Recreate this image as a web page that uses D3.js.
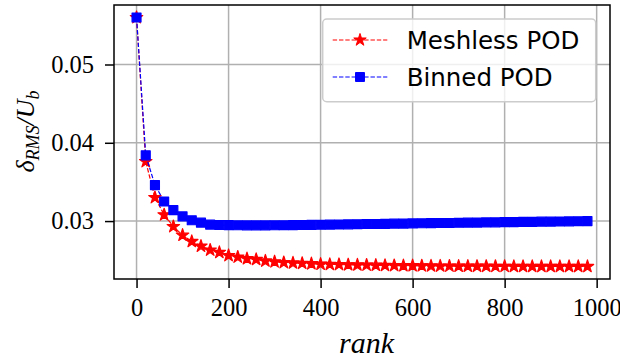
<!DOCTYPE html>
<html>
<head>
<meta charset="utf-8">
<script src="https://cdn.jsdelivr.net/npm/d3@7"></script>
<style>
body { margin: 0; background: #fff; }
.tick text { font-family: "Liberation Serif", serif; font-size: 24.5px; fill: #000; }
</style>
</head>
<body>
<svg id="chart" width="620" height="359"></svg>
<script>
var ranks = [0, 20, 40, 60, 80, 100, 120, 140, 160, 180,
    200, 220, 240, 260, 280, 300, 320, 340, 360, 380,
    400, 420, 440, 460, 480, 500, 520, 540, 560, 580,
    600, 620, 640, 660, 680, 700, 720, 740, 760, 780,
    800, 820, 840, 860, 880, 900, 920, 940, 960, 980];

var meshless = [0.0560, 0.0376, 0.0330, 0.0308, 0.0293, 0.0282, 0.0274, 0.0268, 0.0263, 0.0260,
    0.0256, 0.0254, 0.0252, 0.0251, 0.0249, 0.0248, 0.0247, 0.02465, 0.0246, 0.02455,
    0.0245, 0.02447, 0.02445, 0.02442, 0.0244, 0.02438, 0.02436, 0.02434, 0.02432, 0.0243,
    0.0243, 0.02428, 0.02427, 0.02426, 0.02425, 0.02424, 0.02424, 0.02423, 0.02423, 0.02422,
    0.02422, 0.02421, 0.02421, 0.02421, 0.0242, 0.0242, 0.0242, 0.0242, 0.0242, 0.0242];

var binned = [0.0560, 0.0384, 0.0346, 0.0325, 0.0314, 0.0306, 0.0301, 0.0298, 0.02955, 0.0295,
    0.02948, 0.02946, 0.02945, 0.02945, 0.02945, 0.02946, 0.02947, 0.02948, 0.0295, 0.02951,
    0.02953, 0.02955, 0.02956, 0.02958, 0.0296, 0.02962, 0.02963, 0.02965, 0.02967, 0.02968,
    0.0297, 0.02972, 0.02973, 0.02975, 0.02976, 0.02978, 0.0298, 0.02981, 0.02983, 0.02984,
    0.02986, 0.02987, 0.02989, 0.0299, 0.02992, 0.02993, 0.02995, 0.02996, 0.02998, 0.0300];

var xTicks = [0, 200, 400, 600, 800, 1000];
var yTicks = [0.03, 0.04, 0.05];
var seriesNames = ["Meshless POD", "Binned POD"];

var margin = {left: 114, right: 10, top: 5, bottom: 80};
var width = 620 - margin.left - margin.right;
var height = 359 - margin.top - margin.bottom;

var svg = d3.select("#chart");
var g = svg.append("g").attr("transform", "translate(" + margin.left + "," + margin.top + ")");

var x = d3.scaleLinear().domain([-49, 1029]).range([0, width]);
var y = d3.scaleLinear().domain([0.0226, 0.0576]).range([height, 0]);

// grid
g.append("g").selectAll("line").data(xTicks).enter().append("line")
    .attr("x1", function (d) { return x(d); }).attr("x2", function (d) { return x(d); })
    .attr("y1", 0).attr("y2", height)
    .attr("stroke", "#b0b0b0").attr("stroke-width", 1.5);
g.append("g").selectAll("line").data(yTicks).enter().append("line")
    .attr("y1", function (d) { return y(d); }).attr("y2", function (d) { return y(d); })
    .attr("x1", 0).attr("x2", width)
    .attr("stroke", "#b0b0b0").attr("stroke-width", 1.5);

// axes
var xAxis = g.append("g").attr("transform", "translate(0," + height + ")")
    .call(d3.axisBottom(x).tickValues(xTicks).tickSize(9).tickPadding(11).tickFormat(d3.format("d")));
var yAxis = g.append("g")
    .call(d3.axisLeft(y).tickValues(yTicks).tickSize(9).tickPadding(11).tickFormat(d3.format(".2f")));
[xAxis, yAxis].forEach(function (a) {
    a.select(".domain").remove();
    a.selectAll(".tick line").attr("stroke", "#000").attr("stroke-width", 1.5);
});

function drawSeries(vals, color, symbol, size) {
    var line = d3.line()
        .x(function (d, i) { return x(ranks[i]); })
        .y(function (d) { return y(d); });
    g.append("path").datum(vals)
        .attr("d", line)
        .attr("fill", "none")
        .attr("stroke", color)
        .attr("stroke-width", 1.2)
        .attr("stroke-dasharray", "4.4,1.9");
    g.append("g").selectAll("path").data(vals).enter().append("path")
        .attr("d", d3.symbol().type(symbol).size(size))
        .attr("transform", function (d, i) { return "translate(" + x(ranks[i]) + "," + y(d) + ")"; })
        .attr("fill", color)
        .attr("stroke", color)
        .attr("stroke-width", 1.2)
        .attr("stroke-linejoin", "round");
}

drawSeries(meshless, "#ff0000", d3.symbolStar, 48);
drawSeries(binned, "#0000ff", d3.symbolSquare, 80);

// frame
g.append("rect").attr("x", 0).attr("y", 0).attr("width", width).attr("height", height)
    .attr("fill", "none").attr("stroke", "#000").attr("stroke-width", 1.5);

// legend
var legend = g.append("g").attr("transform", "translate(" + (322.7 - margin.left) + "," + (19 - margin.top) + ")");
legend.append("rect").attr("width", 273).attr("height", 82.7).attr("rx", 4)
    .attr("fill", "#fff").attr("fill-opacity", 0.8)
    .attr("stroke", "#cccccc").attr("stroke-width", 1.5);
var legendItems = [
    {name: seriesNames[0], color: "#ff0000", symbol: d3.symbolStar, size: 48, cy: 21},
    {name: seriesNames[1], color: "#0000ff", symbol: d3.symbolSquare, size: 80, cy: 58}
];
legendItems.forEach(function (it) {
    legend.append("line").attr("x1", 10).attr("x2", 64.6).attr("y1", it.cy).attr("y2", it.cy)
        .attr("stroke", it.color).attr("stroke-width", 1.2).attr("stroke-dasharray", "4.4,1.9");
    legend.append("path").attr("d", d3.symbol().type(it.symbol).size(it.size)())
        .attr("transform", "translate(37.3," + it.cy + ")")
        .attr("fill", it.color).attr("stroke", it.color).attr("stroke-linejoin", "round");
    legend.append("text").attr("x", 84).attr("y", it.cy).attr("dy", "0.35em")
        .style("font-family", "'DejaVu Sans', sans-serif")
        .style("font-size", "24.5px")
        .text(it.name);
});

// axis labels
svg.append("text")
    .attr("x", margin.left + x(500)).attr("y", 353)
    .attr("text-anchor", "middle")
    .style("font-family", "'Liberation Serif', serif").style("font-size", "30px").style("font-style", "italic")
    .text("rank");

var ylab = svg.append("text")
    .attr("transform", "translate(34,131.5) rotate(-90)")
    .attr("text-anchor", "middle")
    .style("font-family", "'Liberation Serif', serif").style("font-size", "26px").style("font-style", "italic");
ylab.append("tspan").text("δ");
ylab.append("tspan").attr("dy", 5).style("font-size", "18px").text("RMS");
ylab.append("tspan").attr("dy", -5).text("/U");
ylab.append("tspan").attr("dy", 5).style("font-size", "18px").text("b");
</script>
</body>
</html>
